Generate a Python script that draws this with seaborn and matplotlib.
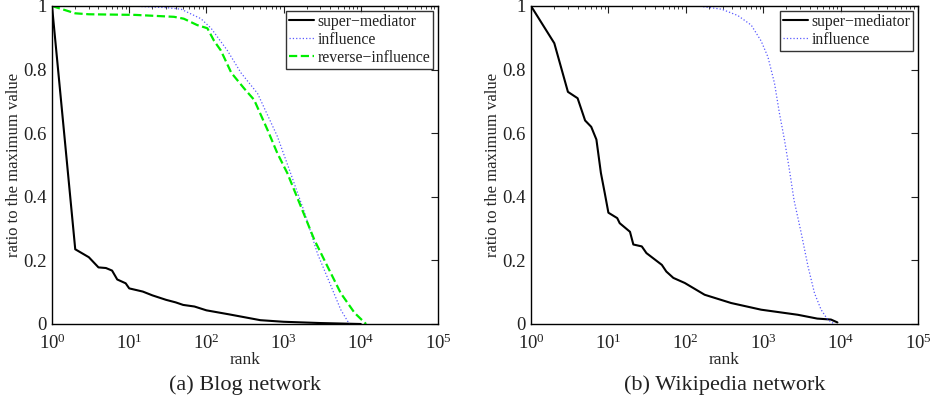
import matplotlib
matplotlib.use("Agg")
import matplotlib.pyplot as plt
import seaborn as sns
import pandas as pd
from matplotlib.ticker import LogLocator, LogFormatterMathtext, FixedLocator, NullFormatter

# ---- data ----
blog_sm_rank = [1, 2, 3, 4, 5, 6, 7, 9, 10, 15, 20, 30, 40, 50, 70, 100, 200, 500, 1000, 3000, 10000]
blog_sm_val = [1.0, 0.235, 0.21, 0.178, 0.176, 0.168, 0.14, 0.128, 0.112, 0.102, 0.09, 0.076,
               0.068, 0.06, 0.055, 0.043, 0.03, 0.012, 0.007, 0.003, 0.0]

blog_inf_rank = [1, 10, 30, 47, 85, 115, 187, 280, 460, 830, 1250, 1870, 2760, 4100, 5500, 7100]
blog_inf_val = [1.0, 1.0, 0.995, 0.99, 0.96, 0.93, 0.86, 0.79, 0.725, 0.59, 0.47, 0.35, 0.22,
                0.12, 0.045, 0.0]

blog_rev_rank = [1, 2, 3, 12, 38, 51, 76, 103, 126, 154, 210, 310, 415, 620, 830, 1120, 1670,
                 2500, 3720, 5500, 8300, 11700]
blog_rev_val = [1.0, 0.977, 0.974, 0.972, 0.966, 0.96, 0.94, 0.93, 0.89, 0.86, 0.79, 0.74, 0.705,
                0.61, 0.537, 0.474, 0.37, 0.265, 0.18, 0.097, 0.035, 0.0]

wiki_sm_rank = [1, 2, 3, 4, 5, 6, 7, 8, 9, 10, 13, 14, 19, 21, 27, 31, 49, 56, 69, 97, 175, 385,
                940, 2800, 5000, 7500, 9100]
wiki_sm_val = [1.0, 0.883, 0.73, 0.71, 0.64, 0.62, 0.58, 0.475, 0.41, 0.35, 0.333, 0.317, 0.29,
               0.25, 0.244, 0.223, 0.186, 0.165, 0.145, 0.129, 0.092, 0.066, 0.045, 0.029, 0.017,
               0.014, 0.005]

wiki_inf_rank = [1, 144, 290, 470, 700, 940, 1150, 1400, 1620, 1880, 2180, 2500, 3100, 3800,
                 4600, 5600, 6800, 8300]
wiki_inf_val = [1.0, 1.0, 0.99, 0.97, 0.94, 0.89, 0.84, 0.757, 0.663, 0.58, 0.485, 0.39, 0.286,
                0.18, 0.097, 0.045, 0.014, 0.0]

y_ticks = [0, 0.2, 0.4, 0.6, 0.8, 1]
y_tick_labels = ["0", "0.2", "0.4", "0.6", "0.8", "1"]
captions = ["(a) Blog network", "(b) Wikipedia network"]

# ---- style ----
sns.set_style("white")
plt.rcParams["font.family"] = ["Liberation Serif", "DejaVu Serif"]
plt.rcParams["mathtext.fontset"] = "custom"
plt.rcParams["mathtext.rm"] = "Liberation Serif"
plt.rcParams["mathtext.it"] = "Liberation Serif:italic"
plt.rcParams["text.color"] = "#222222"

fig = plt.figure(figsize=(9.3, 4.05), dpi=100)
ax1 = fig.add_axes([52 / 930, 1 - 324 / 405, 386 / 930, 318 / 405])
ax2 = fig.add_axes([531 / 930, 1 - 324 / 405, 387 / 930, 318 / 405])

styles = {
    "super\u2212mediator": dict(color="black", linestyle="-", linewidth=1.5),
    "influence": dict(color="#3030ff", linestyle=":", linewidth=0.9, alpha=0.8),
    "reverse\u2212influence": dict(color="#00ee00", linestyle="--", linewidth=1.6),
}

def draw(ax, series):
    for name, (r, v) in series.items():
        df = pd.DataFrame({"rank": r, "ratio": v})
        sns.lineplot(data=df, x="rank", y="ratio", ax=ax, label=name, **styles[name])
    ax.set_xscale("log")
    ax.set_xlim(1, 1e5)
    ax.set_ylim(0, 1)
    ax.xaxis.set_major_locator(LogLocator(base=10, numticks=10))
    ax.xaxis.set_major_formatter(LogFormatterMathtext())
    ax.xaxis.set_minor_locator(LogLocator(base=10, subs=range(2, 10), numticks=20))
    ax.xaxis.set_minor_formatter(NullFormatter())
    ax.yaxis.set_major_locator(FixedLocator(y_ticks))
    ax.set_yticklabels(y_tick_labels)
    ax.tick_params(which="both", direction="in", top=True, right=True, labelsize=13.5,
                   colors="#222222", labelcolor="#222222")
    ax.tick_params(which="major", length=5, width=0.8)
    ax.tick_params(which="minor", length=2.5, width=0.6)
    ax.tick_params(axis="x", pad=7)
    ax.tick_params(axis="y", pad=4)
    for s in ax.spines.values():
        s.set_color("black")
        s.set_linewidth(1.0)
    ax.set_xlabel("rank", fontsize=12.5, labelpad=-1)
    ax.set_ylabel("ratio to the maximum value", fontsize=12, labelpad=1)
    leg = ax.legend(loc="upper right", fontsize=11.3, frameon=True, fancybox=False,
                    edgecolor="black", handlelength=1.6, handletextpad=0.2,
                    borderpad=0.2, labelspacing=0.12, borderaxespad=0.3)
    leg.get_frame().set_linewidth(1.0)

draw(ax1, {
    "super\u2212mediator": (blog_sm_rank, blog_sm_val),
    "influence": (blog_inf_rank, blog_inf_val),
    "reverse\u2212influence": (blog_rev_rank, blog_rev_val),
})
draw(ax2, {
    "super\u2212mediator": (wiki_sm_rank, wiki_sm_val),
    "influence": (wiki_inf_rank, wiki_inf_val),
})

fig.text((52 + 438) / 2 / 930, 1 - 385 / 405, captions[0], ha="center", va="center", fontsize=16)
fig.text((531 + 918) / 2 / 930, 1 - 385 / 405, captions[1], ha="center", va="center", fontsize=16)

fig.savefig("out.png", dpi=100)
